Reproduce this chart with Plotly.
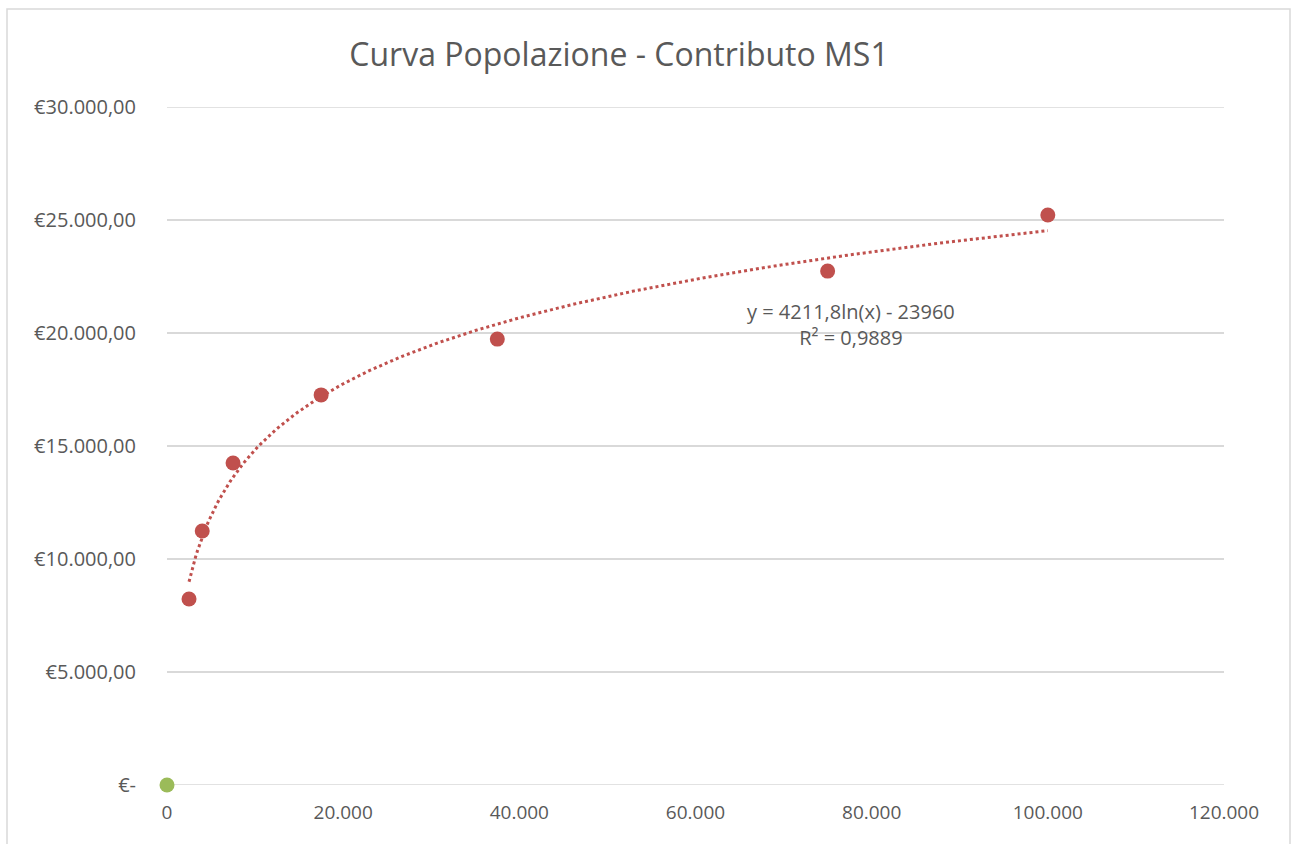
import numpy as np
import plotly.graph_objects as go

# Data
popolazione = [2500, 4000, 7500, 17500, 37500, 75000, 100000]
contributo = [8230, 11240, 14250, 17260, 19730, 22740, 25220]
origin_x = [0]
origin_y = [0]

# Trendline coefficients (as displayed)
coef_a = 4211.8
coef_b = -23960
eq_text = "y = 4211,8ln(x) - 23960<br>R² = 0,9889"

x_tickvals = [0, 20000, 40000, 60000, 80000, 100000, 120000]
x_ticktext = ["0", "20.000", "40.000", "60.000", "80.000", "100.000", "120.000"]
y_tickvals = [0, 5000, 10000, 15000, 20000, 25000, 30000]
y_ticktext = ["€-", "€5.000,00", "€10.000,00", "€15.000,00", "€20.000,00", "€25.000,00", "€30.000,00"]

RED = "#C0504D"
GREEN = "#9BBB59"
TXT = "#595959"
GRID = "#D9D9D9"
FONT = "Open Sans"

tx = np.linspace(min(popolazione), max(popolazione), 400)
ty = coef_a * np.log(tx) + coef_b

fig = go.Figure()
fig.add_trace(go.Scatter(x=tx, y=ty, mode="lines",
                         line=dict(color=RED, width=3, dash="dot"),
                         hoverinfo="skip", showlegend=False))
fig.add_trace(go.Scatter(x=popolazione, y=contributo, mode="markers",
                         marker=dict(color=RED, size=15, line=dict(width=0)),
                         showlegend=False))
fig.add_trace(go.Scatter(x=origin_x, y=origin_y, mode="markers",
                         marker=dict(color=GREEN, size=15, line=dict(width=0)),
                         showlegend=False, cliponaxis=False))

fig.add_annotation(x=77600, y=20360, xref="x", yref="y", text=eq_text,
                   showarrow=False, align="center",
                   font=dict(family=FONT, size=20, color=TXT))

# edge gridlines (bottom and top of range)
for yv in (y_tickvals[0], y_tickvals[-1]):
    fig.add_shape(type="line", xref="paper", yref="y", x0=0, x1=1, y0=yv, y1=yv,
                  line=dict(color=GRID, width=1.5), layer="below")

fig.add_shape(type="rect", xref="paper", yref="paper",
              x0=(7 - 167) / 1057, x1=(1290 - 167) / 1057,
              y0=-0.2, y1=(785 - 9) / 678,
              line=dict(color=GRID, width=1.5), fillcolor="rgba(0,0,0,0)",
              layer="below")

fig.update_layout(
    width=1292, height=844,
    margin=dict(l=167, r=68, t=107, b=59),
    paper_bgcolor="white", plot_bgcolor="white",
    title=dict(text="Curva Popolazione - Contributo MS1",
               x=619 / 1292, xanchor="center", y=1 - 55 / 844, yanchor="middle",
               font=dict(family=FONT, size=32, color=TXT)),
    font=dict(family=FONT, color=TXT, size=19),
)
fig.update_xaxes(range=[0, 120000], tickvals=x_tickvals, ticktext=x_ticktext,
                 showgrid=False, zeroline=False, showline=False, ticks="outside",
                 ticklen=10, tickcolor="rgba(0,0,0,0)",
                 tickfont=dict(family=FONT, size=19, color=TXT))
fig.update_yaxes(range=[0, 30000], tickvals=y_tickvals, ticktext=y_ticktext,
                 showgrid=True, gridcolor=GRID, gridwidth=1.5,
                 zeroline=False, showline=False, ticks="outside", ticklen=26,
                 tickcolor="rgba(0,0,0,0)",
                 tickfont=dict(family=FONT, size=20, color=TXT))

fig.write_html("out.html", config={"displayModeBar": False},
               post_script="document.body.style.margin='0';")
